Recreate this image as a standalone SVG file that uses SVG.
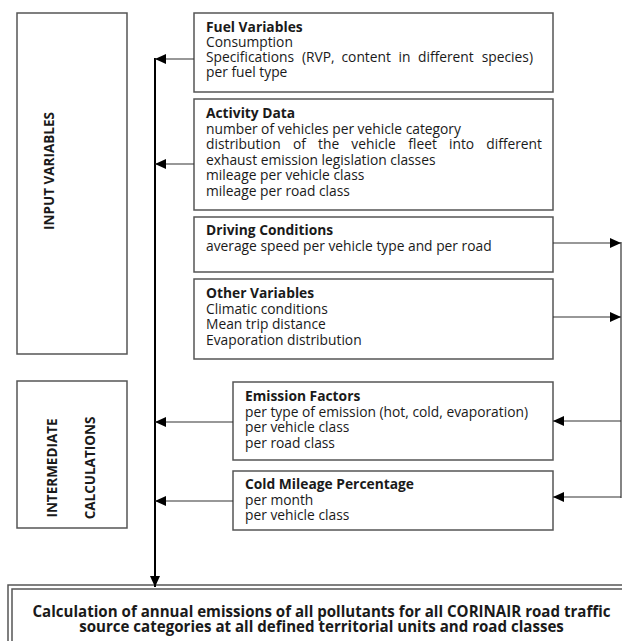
<svg xmlns="http://www.w3.org/2000/svg" width="622" height="641" viewBox="0 0 622 641">
<style>
.box{fill:#fff;stroke:#555;stroke-width:1.5}
.t{font-family:"Open Sans","Liberation Sans",sans-serif;font-size:13.8px;fill:#1a1a1a}
.b{font-weight:bold}
.side{font-family:"Open Sans","Liberation Sans",sans-serif;font-size:13.5px;font-weight:bold;fill:#1a1a1a}
.c{fill:none;stroke:#333;stroke-width:1.2}
.main{fill:none;stroke:#000;stroke-width:2}
</style>
<defs>
<marker id="ah" markerUnits="userSpaceOnUse" markerWidth="12" markerHeight="10" refX="11" refY="5" orient="auto">
<path d="M0,0 L11,5 L0,10 Z" fill="#000"/>
</marker>
</defs>
<rect width="622" height="641" fill="#fff"/>

<g id="input-variables">
<rect class="box" x="17" y="13" width="110" height="341"/>
<text class="side" transform="translate(54,171) rotate(-90)" text-anchor="middle">INPUT VARIABLES</text>
</g>

<g id="intermediate-calculations">
<rect class="box" x="17" y="381" width="110" height="147"/>
<text class="side" transform="translate(57,468) rotate(-90)" text-anchor="middle">INTERMEDIATE</text>
<text class="side" transform="translate(95,468) rotate(-90)" text-anchor="middle">CALCULATIONS</text>
</g>

<g id="fuel-variables">
<rect class="box" x="194" y="13" width="359" height="79"/>
<text class="t"><tspan class="b" x="206" y="32">Fuel Variables</tspan><tspan x="206" y="47">Consumption</tspan><tspan x="206" y="62">Specifications</tspan><tspan x="302" y="62">(RVP,</tspan><tspan x="341.5" y="62">content</tspan><tspan x="398.5" y="62">in</tspan><tspan x="418" y="62">different</tspan><tspan x="533" y="62" text-anchor="end">species)</tspan><tspan x="206" y="77">per fuel type</tspan></text>
</g>

<g id="activity-data">
<rect class="box" x="194" y="99" width="359" height="111"/>
<text class="t"><tspan class="b" x="206" y="118">Activity Data</tspan><tspan x="206" y="133.5">number of vehicles per vehicle category</tspan><tspan x="206" y="149">distribution</tspan><tspan x="293" y="149">of</tspan><tspan x="318" y="149">the</tspan><tspan x="351.3" y="149">vehicle</tspan><tspan x="408.3" y="149">fleet</tspan><tspan x="449" y="149">into</tspan><tspan x="542" y="149" text-anchor="end">different</tspan><tspan x="206" y="164.5">exhaust emission legislation classes</tspan><tspan x="206" y="180">mileage per vehicle class</tspan><tspan x="206" y="195.5">mileage per road class</tspan></text>
</g>

<g id="driving-conditions">
<rect class="box" x="194" y="217" width="359" height="55"/>
<text class="t"><tspan class="b" x="206" y="235">Driving Conditions</tspan><tspan x="206" y="251">average speed per vehicle type and per road</tspan></text>
</g>

<g id="other-variables">
<rect class="box" x="194" y="279" width="359" height="80"/>
<text class="t"><tspan class="b" x="206" y="298">Other Variables</tspan><tspan x="206" y="313.5">Climatic conditions</tspan><tspan x="206" y="329">Mean trip distance</tspan><tspan x="206" y="344.5">Evaporation distribution</tspan></text>
</g>

<g id="emission-factors">
<rect class="box" x="233" y="382" width="320" height="78"/>
<text class="t"><tspan class="b" x="245" y="401">Emission Factors</tspan><tspan x="245" y="416.5">per type of emission (hot, cold, evaporation)</tspan><tspan x="245" y="432">per vehicle class</tspan><tspan x="245" y="447.5">per road class</tspan></text>
</g>

<g id="cold-mileage-percentage">
<rect class="box" x="233" y="471" width="320" height="59"/>
<text class="t"><tspan class="b" x="245" y="489">Cold Mileage Percentage</tspan><tspan x="245" y="504.5">per month</tspan><tspan x="245" y="520">per vehicle class</tspan></text>
</g>

<g id="annual-emissions">
<rect x="8" y="585" width="630" height="70" fill="#fff" stroke="#555" stroke-width="1.5"/>
<rect x="12" y="589" width="622" height="62" fill="none" stroke="#555" stroke-width="1.5"/>
<text class="t b" style="font-size:15.1px" text-anchor="middle"><tspan x="321.5" y="617">Calculation of annual emissions of all pollutants for all CORINAIR road traffic</tspan><tspan x="321.5" y="632">source categories at all defined territorial units and road classes</tspan></text>
</g>

<g id="connectors">
<line class="main" x1="155" y1="58" x2="155" y2="587" marker-end="url(#ah)"/>
<line class="c" x1="194" y1="59" x2="155" y2="59" marker-end="url(#ah)"/>
<line class="c" x1="194" y1="164" x2="155" y2="164" marker-end="url(#ah)"/>
<line class="c" x1="233" y1="422" x2="155" y2="422" marker-end="url(#ah)"/>
<line class="c" x1="233" y1="501" x2="155" y2="501" marker-end="url(#ah)"/>
<line class="c" x1="553" y1="243" x2="621" y2="243" marker-end="url(#ah)"/>
<line class="c" x1="553" y1="317" x2="621" y2="317" marker-end="url(#ah)"/>
<line class="c" x1="621" y1="242" x2="621" y2="498"/>
<line class="c" x1="621" y1="421" x2="553" y2="421" marker-end="url(#ah)"/>
<line class="c" x1="621" y1="497" x2="553" y2="497" marker-end="url(#ah)"/>
</g>
</svg>
